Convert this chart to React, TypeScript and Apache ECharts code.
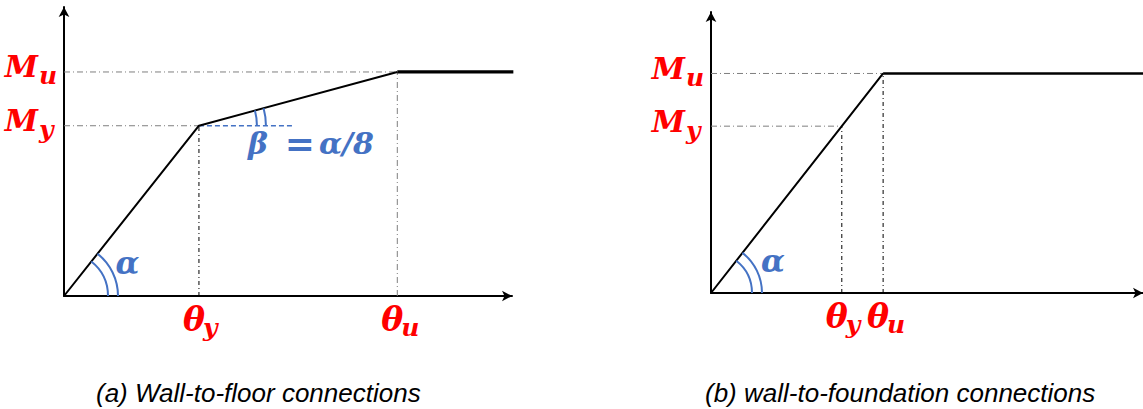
import React, { useEffect, useRef } from "react";
import * as echarts from "echarts";

// ---------- Panel (a): wall-to-floor ----------
const thetaA = [1.0, 2.47]; // θy, θu
const momentA = [0.76, 1.0]; // My, Mu
const plateauEndA = 3.33;
const betaRefEndA = 1.71;
const axisMaxA = [3.32, 1.29];

// ---------- Panel (b): wall-to-foundation ----------
const thetaB = [0.76, 1.0]; // θy, θu
const momentB = [0.76, 1.0]; // My, Mu
const plateauEndB = 2.52;
const axisMaxB = [2.51, 1.28];

// ---------- Texts ----------
const subscripts = ["y", "u"];
const momentSymbol = "M";
const thetaSymbol = "θ";
const alphaText = "α";
const betaParts = ["β", "=", "α/8"];
const captions = ["(a) Wall-to-floor connections", "(b) wall-to-foundation connections"];

const RED = "#FF0000";
const BLUE = "#4472C4";
const GRAY = "#7f7f7f";
const MATH = '"DejaVu Serif", serif';

function txt(x: number, y: number, text: string, size: number, color: string, align = "left") {
  return {
    type: "text",
    x,
    y,
    style: {
      text,
      fill: color,
      font: `italic bold ${size}px ${MATH}`,
      align,
      verticalAlign: "middle",
    },
  };
}

function arc(cx: number, cy: number, r: number, a: number) {
  return {
    type: "arc",
    shape: { cx, cy, r, startAngle: a, endAngle: 0, clockwise: true },
    style: { stroke: BLUE, lineWidth: 2, fill: "none" },
  };
}

function lineSeries(idx: number, data: number[][], style: any, z = 2) {
  return {
    type: "line",
    xAxisIndex: idx,
    yAxisIndex: idx,
    data,
    symbol: "none",
    silent: true,
    clip: false,
    z,
    lineStyle: style,
  };
}

function panelSeries(
  idx: number,
  theta: number[],
  moment: number[],
  plateauEnd: number,
  opts: { alphaDx: number; alphaDy: number; r: number[]; beta: boolean }
) {
  const [ty, tu] = theta;
  const [my, mu] = moment;
  const dashGray = { color: GRAY, width: 1, type: [6, 3, 1, 3] };
  const dashBlack = { color: "#000", width: 1, type: [4, 3, 1, 3] };
  const series: any[] = [
    lineSeries(idx, [[0, mu], [tu, mu]], dashGray, 1),
    lineSeries(idx, [[0, my], [ty, my]], dashGray, 1),
    lineSeries(idx, [[ty, 0], [ty, my]], dashBlack, 1),
    lineSeries(idx, [[tu, 0], [tu, mu]], idx === 0 ? dashGray : dashBlack, 1),
    lineSeries(idx, [[0, 0], [ty, my], [tu, mu]], { color: "#000", width: 2 }, 3),
    lineSeries(idx, [[tu, mu], [plateauEnd, mu]], { color: "#000", width: idx === 0 ? 3.2 : 2.6 }, 3),
  ];
  if (opts.beta) {
    series.push(lineSeries(idx, [[ty, my], [betaRefEndA, my]], { color: BLUE, width: 1.5, type: [5, 3] }, 2));
  }
  series.push({
    type: "custom",
    xAxisIndex: idx,
    yAxisIndex: idx,
    silent: true,
    clip: false,
    z: 4,
    data: [[0, 0]],
    renderItem: (params: any, api: any) => {
      const o = api.coord([0, 0]);
      const py = api.coord([ty, my]);
      const pu = api.coord([tu, mu]);
      const a1 = Math.atan2(py[1] - o[1], py[0] - o[0]);
      const children: any[] = [
        arc(o[0], o[1], opts.r[0], a1),
        arc(o[0], o[1], opts.r[1], a1),
        txt(o[0] + opts.alphaDx, o[1] + opts.alphaDy, alphaText, 31, BLUE, "center"),
      ];
      if (opts.beta) {
        const a2 = Math.atan2(pu[1] - py[1], pu[0] - py[0]);
        children.push(arc(py[0], py[1], 58, a2));
        children.push(arc(py[0], py[1], 67, a2));
        children.push(txt(py[0] + 49, py[1] + 18, betaParts[0], 30, BLUE, "left"));
        children.push(txt(py[0] + 101, py[1] + 17, betaParts[1], 36, BLUE, "center"));
        children.push(txt(py[0] + 120, py[1] + 18, betaParts[2], 30, BLUE, "left"));
      }
      // moment labels on the vertical axis
      moment.forEach((m, i) => {
        const yy = api.coord([0, m])[1];
        children.push(txt(o[0] - 26, yy - 5, momentSymbol, 30, RED, "right"));
        children.push(txt(o[0] - 25, yy + 4, subscripts[i], 25, RED, "left"));
      });
      // rotation labels under the horizontal axis
      theta.forEach((t, i) => {
        const xx = api.coord([t, 0])[0];
        children.push(txt(xx - 5, o[1] + 23.5, thetaSymbol, 33, RED, "center"));
        children.push(txt(xx + 4, o[1] + 31, subscripts[i], 25, RED, "left"));
      });
      return { type: "group", children };
    },
  });
  return series;
}

function axisPair(idx: number, max: number[]) {
  const common = {
    type: "value",
    gridIndex: idx,
    min: 0,
    axisTick: { show: false },
    axisLabel: { show: false },
    splitLine: { show: false },
    axisLine: {
      show: true,
      symbol: ["none", "arrow"],
      symbolSize: [8, 10],
      lineStyle: { color: "#000", width: 2 },
    },
  };
  return {
    x: { ...common, max: max[0] },
    y: { ...common, max: max[1] },
  };
}

export default function App() {
  const ref = useRef<HTMLDivElement>(null);
  useEffect(() => {
    if (!ref.current) return;
    const chart = echarts.init(ref.current, undefined, { renderer: "svg" });
    const axA = axisPair(0, axisMaxA);
    const axB = axisPair(1, axisMaxB);
    chart.setOption({
      animation: false,
      backgroundColor: "#fff",
      grid: [
        { left: 64, top: 7, width: 448, height: 289 },
        { left: 711, top: 12, width: 432, height: 281 },
      ],
      xAxis: [axA.x, axB.x],
      yAxis: [axA.y, axB.y],
      series: [
        ...panelSeries(0, thetaA, momentA, plateauEndA, {
          alphaDx: 63.5,
          alphaDy: -33,
          r: [44, 54],
          beta: true,
        }),
        ...panelSeries(1, thetaB, momentB, plateauEndB, {
          alphaDx: 62,
          alphaDy: -32,
          r: [41, 51],
          beta: false,
        }),
      ],
      graphic: [
        {
          type: "text",
          x: 96,
          y: 393,
          style: {
            text: captions[0],
            fill: "#000",
            font: 'italic 26px "Liberation Sans", Arial, sans-serif',
            align: "left",
            verticalAlign: "middle",
          },
        },
        {
          type: "text",
          x: 705,
          y: 393,
          style: {
            text: captions[1],
            fill: "#000",
            font: 'italic 26px "Liberation Sans", Arial, sans-serif',
            align: "left",
            verticalAlign: "middle",
          },
        },
      ],
    });
    return () => chart.dispose();
  }, []);
  return (
    <div
      ref={ref}
      style={{ position: "absolute", left: 0, top: 0, width: 1143, height: 409, background: "#fff" }}
    />
  );
}
